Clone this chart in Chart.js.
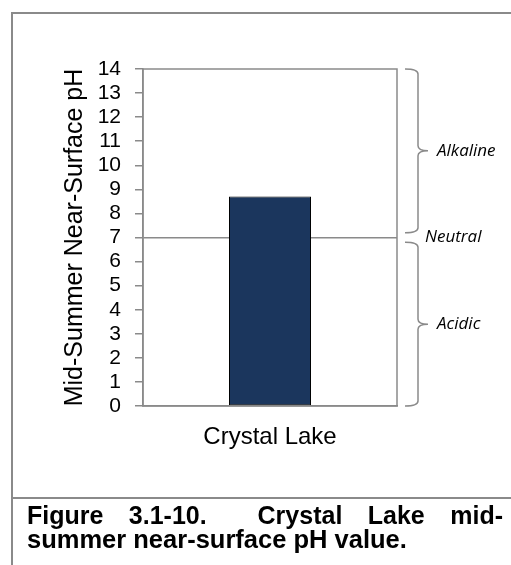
<!DOCTYPE html>
<html>
<head>
<meta charset="utf-8">
<script src="https://cdn.jsdelivr.net/npm/chart.js@4"></script>
<style>
  body { margin: 0; background: #fff; width: 511px; height: 565px; overflow: hidden; position: relative; font-family: "Liberation Sans", Arial, sans-serif; }
  #wrap { position: absolute; left: 0; top: 0; width: 511px; height: 565px; }
  .ln { position: absolute; background: #8a8a8a; }
  .cap { position: absolute; left: 27px; width: 476px; font-weight: bold; font-size: 25px; color: #000; white-space: nowrap; }
  #cap1 { top: 501px; text-align: justify; text-align-last: justify; white-space: normal; }
  #cap2 { top: 525px; font-size: 25.5px; }
</style>
</head>
<body>
<div class="ln" style="left:11px; top:12px; width:500px; height:2px;"></div>
<div class="ln" style="left:11px; top:12px; width:2px; height:553px;"></div>
<div class="ln" style="left:11px; top:497px; width:500px; height:2px;"></div>
<div id="wrap"><canvas id="grafico" width="511" height="565"></canvas></div>
<div class="cap" id="cap1">Figure 3.1-10.&nbsp; Crystal Lake mid-</div>
<div class="cap" id="cap2">summer near-surface pH value.</div>
<script>
const categorias = ['Crystal Lake'];
const valoresPH = [8.7];
const ticksY = [0, 1, 2, 3, 4, 5, 6, 7, 8, 9, 10, 11, 12, 13, 14];
const faixasNome = ['Alkaline', 'Neutral', 'Acidic'];
const faixasInicio = [7.2, 7, 0];
const faixasFim = [14, 7, 6.8];

const cinza = '#8a8a8a';

// moldura do grafico + chaves das faixas de pH
const molduraEChaves = {
    id: 'molduraEChaves',
    afterDraw(chart) {
        const { ctx, chartArea: a, scales: { y } } = chart;
        ctx.save();
        ctx.strokeStyle = cinza;
        ctx.lineWidth = 1.5;
        ctx.strokeRect(a.left, a.top, a.right - a.left, a.bottom - a.top);

        const x0 = a.right + 8, x1 = a.right + 21, xp = a.right + 31, r = 5;
        ctx.font = 'italic 17px "Open Sans", sans-serif';
        ctx.fillStyle = '#000';
        ctx.textBaseline = 'middle';
        faixasNome.forEach((nome, i) => {
            const yTop = y.getPixelForValue(faixasFim[i]);
            const yBot = y.getPixelForValue(faixasInicio[i]);
            if (faixasInicio[i] === faixasFim[i]) {
                ctx.fillText(nome, a.right + 28, yTop);
                return;
            }
            const ym = (yTop + yBot) / 2;
            ctx.beginPath();
            ctx.moveTo(x0, yTop);
            ctx.quadraticCurveTo(x1, yTop, x1, yTop + r);
            ctx.lineTo(x1, ym - r);
            ctx.quadraticCurveTo(x1, ym, xp, ym);
            ctx.moveTo(xp, ym);
            ctx.quadraticCurveTo(x1, ym, x1, ym + r);
            ctx.lineTo(x1, yBot - r);
            ctx.quadraticCurveTo(x1, yBot, x0, yBot);
            ctx.stroke();
            ctx.fillText(nome, a.right + 40, ym);
        });
        ctx.restore();
    }
};

new Chart(document.getElementById('grafico').getContext('2d'), {
    type: 'bar',
    data: {
        labels: categorias,
        datasets: [{
            label: 'pH',
            data: valoresPH,
            backgroundColor: '#1b365d',
            borderColor: '#000',
            borderWidth: 1,
            borderSkipped: false,
            barPercentage: 0.323,
            categoryPercentage: 1
        }]
    },
    options: {
        responsive: false,
        animation: false,
        layout: { padding: { top: 69, right: 114, left: 0, bottom: 0 } },
        plugins: { legend: { display: false }, tooltip: { enabled: false } },
        scales: {
            x: {
                afterFit: s => { s.height = 159; },
                grid: { display: false },
                border: { display: true, color: cinza, width: 1.5 },
                ticks: { color: '#000', padding: 9, font: { family: 'Liberation Sans', size: 24 } }
            },
            y: {
                z: 1,
                min: 0,
                max: 14,
                afterFit: s => { s.width = 143; },
                afterBuildTicks: s => { s.ticks = ticksY.map(v => ({ value: v })); },
                grid: {
                    color: c => (c.tick && c.tick.value === 7 ? cinza : 'rgba(0,0,0,0)'),
                    tickColor: cinza,
                    tickLength: 8,
                    lineWidth: 1.5
                },
                border: { display: true, color: cinza, width: 1.5 },
                ticks: { color: '#000', padding: 14, autoSkip: false, font: { family: 'Liberation Sans', size: 21 } },
                title: {
                    display: true,
                    text: 'Mid-Summer Near-Surface pH',
                    color: '#000',
                    padding: { top: 60 },
                    font: { family: 'Liberation Sans', size: 25 }
                }
            }
        }
    },
    plugins: [molduraEChaves]
});
</script>
</body>
</html>
